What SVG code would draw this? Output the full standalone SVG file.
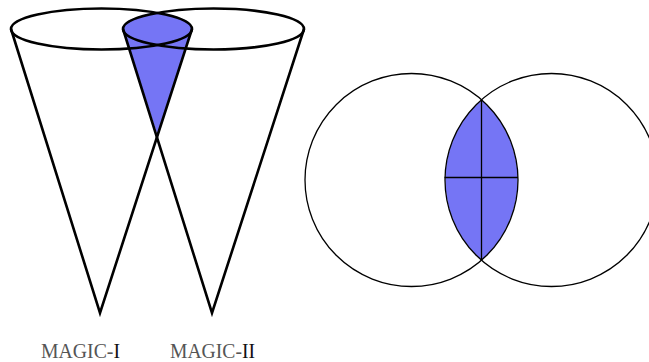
<svg xmlns="http://www.w3.org/2000/svg" width="649" height="362" viewBox="0 0 649 362">
<style>
.o{fill:none;stroke:#000;stroke-width:2.6}
.c{fill:none;stroke:#000;stroke-width:1.3}
.f{fill:#7575f5;stroke:none}
text{font-family:"Liberation Serif","Times New Roman",serif;font-size:20px;fill:#555}
.d{fill:#111}
</style>
<rect width="649" height="362" fill="#fff"/>
<g id="cones">
<path class="f" d="M123 29 A90.5 20.5 0 0 1 157.5 12 A90.5 20.5 0 0 1 192 29 L157.5 135 Z"/>
<ellipse class="o" cx="101.5" cy="29" rx="90.5" ry="20.5"/>
<ellipse class="o" cx="213.5" cy="29" rx="90.5" ry="20.5"/>
<path class="o" d="M11 29 L100 313 L192 29"/>
<path class="o" d="M123 29 L212 313 L304 29"/>
</g>
<g id="circles">
<path class="f" d="M481.5 100 A106.5 106.5 0 0 1 481.5 260 A106.5 106.5 0 0 1 481.5 100 Z"/>
<circle class="c" cx="411.5" cy="180" r="106.5"/>
<circle class="c" cx="551.5" cy="180" r="106.5"/>
<path class="c" d="M481.5 100 V260 M444.5 177.5 H518"/>
</g>
<g id="label-magic-1"><text x="41" y="358" textLength="79" lengthAdjust="spacingAndGlyphs">MAGIC-<tspan class="d">I</tspan></text></g>
<g id="label-magic-2"><text x="170" y="358" textLength="85" lengthAdjust="spacingAndGlyphs">MAGIC-<tspan class="d">II</tspan></text></g>
</svg>
